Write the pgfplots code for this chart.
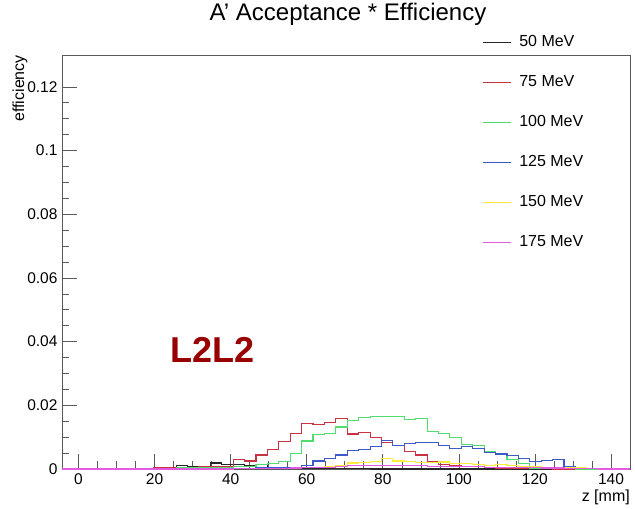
\documentclass[border=0pt]{standalone}
\usepackage{fontspec}
\setmainfont{Liberation Sans}
\usepackage{pgfplots}
\pgfplotsset{compat=1.18}
\usepackage{pgfplotstable}

\definecolor{c50}{RGB}{40,40,40}
\definecolor{c75}{RGB}{200,50,65}
\definecolor{c100}{RGB}{80,220,110}
\definecolor{c125}{RGB}{60,90,200}
\definecolor{c150}{RGB}{255,235,60}
\definecolor{c175}{RGB}{225,90,225}
\definecolor{labelred}{RGB}{153,0,0}
\definecolor{framegray}{RGB}{90,90,90}

\pgfplotstableread{
x       k50     k75     k100    k125    k150    k175
-4.35   0       0       0       0       0       0
-1.35   0       0       0       0       0       0
1.65    0       0       0       0       0       0
4.65    0       0.0001  0       0       0       0
7.65    0       0.0001  0       0       0       0
10.65   0       0.0001  0       0       0       0
13.65   0       0.0002  0       0       0       0
16.65   0.0001  0.0002  0       0       0       0
19.65   0.0002  0.0003  0.0001  0       0       0
22.65   0.0004  0.0004  0.0002  0       0       0
25.65   0.0010  0.0005  0.0003  0.0001  0       0
28.65   0.0008  0.0006  0.0003  0.0001  0       0
31.65   0.0008  0.0008  0.0004  0.0001  0       0
34.65   0.0019  0.0008  0.0005  0.0001  0       0
37.65   0.0015  0.0007  0.0005  0.0002  0       0
40.65   0.0014  0.0031  0.0008  0.0002  0.0001  0.0001
43.65   0.0010  0.0025  0.0009  0.0002  0.0001  0.0001
46.65   0.0014  0.0044  0.0015  0.0003  0.0001  0.0001
49.65   0.0006  0.0062  0.0018  0.0003  0.0002  0.0002
52.65   0.0006  0.0085  0.0023  0.0004  0.0002  0.0002
55.65   0.0003  0.0111  0.0050  0.0005  0.0003  0.0003
58.65   0.0003  0.0143  0.0088  0.0012  0.0004  0.0004
61.65   0.0002  0.0140  0.0108  0.0025  0.0006  0.0005
64.65   0.0001  0.0146  0.0112  0.0033  0.0009  0.0006
67.65   0.0001  0.0158  0.0132  0.0044  0.0011  0.0008
70.65   0.0001  0.0110  0.0153  0.0058  0.0019  0.0010
73.65   0.0001  0.0115  0.0161  0.0060  0.0020  0.0010
76.65   0       0.0100  0.0164  0.0070  0.0023  0.0011
79.65   0       0.0084  0.0166  0.0090  0.0033  0.0012
82.65   0       0.0075  0.0164  0.0075  0.0025  0.0012
85.65   0       0.0056  0.0155  0.0080  0.0024  0.0011
88.65   0       0.0044  0.0158  0.0083  0.0021  0.0012
91.65   0       0.0023  0.0117  0.0083  0.0020  0.0009
94.65   0       0.0013  0.0111  0.0075  0.0022  0.0008
97.65   0       0.0010  0.0099  0.0065  0.0017  0.0009
100.65  0       0.0009  0.0077  0.0070  0.0016  0.0007
103.65  0       0.0007  0.0073  0.0065  0.0015  0.0008
106.65  0       0.0004  0.0054  0.0051  0.0012  0.0006
109.65  0       0.0003  0.0047  0.0047  0.0013  0.0006
112.65  0       0.0002  0.0030  0.0042  0.0010  0.0005
115.65  0       0.0002  0.0018  0.0033  0.0008  0.0004
118.65  0       0.0001  0.0003  0.0023  0.0007  0.0004
121.65  0       0.0001  0.0003  0.0028  0.0006  0.0003
124.65  0       0       0.0001  0.0030  0.0005  0.0003
127.65  0       0       0.0001  0.0007  0.0004  0.0002
130.65  0       0       0       0.0003  0.0003  0.0001
133.65  0       0       0       0.0001  0.0001  0.0001
136.65  0       0       0       0       0       0
139.65  0       0       0       0       0       0
142.65  0       0       0       0       0       0
145     0       0       0       0       0       0
}\datatable

\begin{document}
\begin{tikzpicture}
\useasboundingbox (-62pt,-40pt) rectangle (573pt,469pt);
\begin{axis}[
  scale only axis, width=568pt, height=414pt,
  xmin=-4.35, xmax=145, ymin=0, ymax=0.13,
  clip=false,
  xtick={0,20,40,60,80,100,120,140}, minor x tick num=3,
  ytick={0,0.02,0.04,0.06,0.08,0.1,0.12}, minor y tick num=3,
  tick pos=left, tick align=inside,
  major tick length=15pt, minor tick length=7.5pt,
  tick style={framegray, line width=0.6pt},
  axis line style={framegray, line width=0.6pt},
  ticklabel style={font=\fontsize{15.5}{18}\selectfont},
  /pgf/number format/assume math mode=true,
  scaled y ticks=false,
  yticklabel style={/pgf/number format/fixed, /pgf/number format/precision=2, xshift=-1pt},
  xticklabel style={yshift=-1pt},
  xlabel={z [mm]},
  xlabel style={at={(axis description cs:1,0)}, anchor=north east, inner sep=0pt, yshift=-21pt, font=\fontsize{16}{18}\selectfont},
  ylabel={efficiency},
  ylabel style={at={(axis description cs:-0.0739,1)}, anchor=east, inner sep=0pt, font=\fontsize{16}{18}\selectfont},
  title={A' Acceptance * Efficiency},
  title style={at={(axis description cs:0.5035,1)}, anchor=center, yshift=35pt, font=\fontsize{24}{28}\selectfont},
  legend style={at={(axis description cs:0.7394,1.0507)}, anchor=north west, draw=none, fill=none, inner sep=0pt,
    font=\fontsize{16}{18}\selectfont, row sep=24pt, column sep=8pt,
    nodes={inner sep=0pt, text height=12pt, text depth=4pt}},
  legend cell align=left,
  legend image code/.code={\draw[#1] (0pt,0pt) -- (28pt,0pt);},
]
\addplot[const plot, c50, line width=1.1pt] table[x=x,y=k50]{\datatable};
\addlegendentry{50 MeV}
\addplot[const plot, c75, line width=1.1pt] table[x=x,y=k75]{\datatable};
\addlegendentry{75 MeV}
\addplot[const plot, c100, line width=1.1pt] table[x=x,y=k100]{\datatable};
\addlegendentry{100 MeV}
\addplot[const plot, c125, line width=1.1pt] table[x=x,y=k125]{\datatable};
\addlegendentry{125 MeV}
\addplot[const plot, c150, line width=1.1pt] table[x=x,y=k150]{\datatable};
\addlegendentry{150 MeV}
\addplot[const plot, c175, line width=1.1pt] table[x=x,y=k175]{\datatable};
\addlegendentry{175 MeV}
\node[font=\bfseries\fontsize{36}{40}\selectfont, text=labelred] at (axis cs:35.1,0.0375) {L2L2};
\end{axis}
\end{tikzpicture}
\end{document}
